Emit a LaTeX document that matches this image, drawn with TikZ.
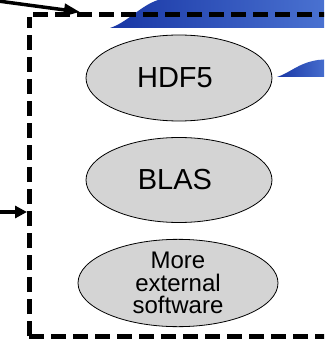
\documentclass[tikz,border=0pt]{standalone}
\usepackage{fontspec}
\setmainfont{Liberation Sans}
\usetikzlibrary{arrows.meta,positioning,shapes.geometric}
\usepackage{xcolor}

\definecolor{swooshdark}{RGB}{25,55,165}
\definecolor{swooshlight}{RGB}{75,115,210}
\definecolor{libgray}{RGB}{212,212,212}

\begin{document}
\begin{tikzpicture}[x=1pt, y=-1pt,
    every node/.style={
    ellipse,
    inner sep=0pt,
    draw,
    line width=0.8pt,
    fill=libgray,
    align=center
}]
    \useasboundingbox (0,0) rectangle (324,347);
    \clip (0,0) rectangle (324,347);

    % blue swooshes, cut off at the border
    \shade[left color=swooshdark, right color=swooshlight]
        (110,28) .. controls (128,22) and (140,6) .. (158,0) -- (330,0) -- (330,28) -- cycle;
    \shade[left color=swooshdark, right color=swooshlight]
        (277,77) .. controls (290,73) and (298,63) .. (318,60) -- (330,59) -- (330,77) -- cycle;

    % library box
    \draw[line width=5pt, dash pattern=on 15pt off 7pt] (29,336) -- (29,17);
    \draw[line width=5pt, dash pattern=on 15pt off 7pt] (33,15) -- (340,15);
    \draw[line width=5pt, dash pattern=on 15pt off 7pt] (29,336) -- (340,336);
    \coordinate (box_corner) at (80,12);
    \coordinate (box_left) at (27,212);

    \node (hdf5) [minimum width=186pt, minimum height=86pt, font=\fontsize{29}{30}\selectfont] at (179,78)
    {
        HDF5
    };
    \node (blas) [minimum width=186pt, minimum height=85pt, font=\fontsize{29}{30}\selectfont] at (179,180)
    {
        BLAS
    };
    \node (more_software) [minimum width=200pt, minimum height=87pt, font=\fontsize{24}{22.5}\selectfont] at (178,283)
    {
        More\\external\\software
    };

    \coordinate (from_top) at (-2,1);
    \coordinate (from_left) at (-2,212);

    \draw[-{Triangle[length=16pt, width=12pt]}, line width=3.5pt] (from_top) to (box_corner);
    \draw[-{Triangle[length=12pt, width=12pt]}, line width=3.5pt] (from_left) to (box_left);
\end{tikzpicture}
\end{document}
